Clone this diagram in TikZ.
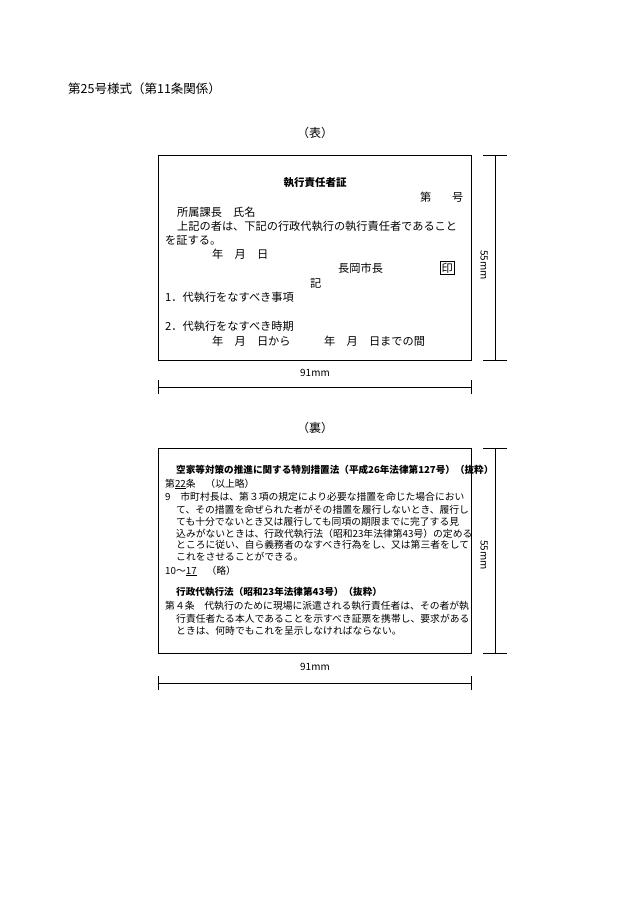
\documentclass[tikz,border=0pt]{standalone}
\usepackage{fontspec}
\setmainfont{Noto Sans CJK JP}
\begin{document}
\begin{tikzpicture}[x=1pt,y=-1pt,
  t/.style={anchor=west,inner sep=0pt,font=\fontsize{11.2}{12}\selectfont},
  b/.style={anchor=west,inner sep=0pt,font=\fontsize{9.8}{11}\selectfont},
  dim/.style={line width=0.7pt},
  card/.style={draw,line width=0.8pt}]
\useasboundingbox (0,0) rectangle (630,903);
\node[anchor=west,inner sep=0pt,font=\fontsize{12.5}{13}\selectfont] (hdr) at (68,89) {第25号様式（第11条関係）};
% front
\node[inner sep=0pt,font=\fontsize{12}{13}\selectfont] (omote) at (315,133) {（表）};
\draw[card] (158,155) rectangle (471,360);
\node[inner sep=0pt,font=\bfseries\fontsize{10.5}{12}\selectfont] (ft) at (315,183) {執行責任者証};
\node[t] (f1) at (420,197) {第};
\node[t] (f1b) at (452,197) {号};
\node[t] (f2) at (177,212) {所属課長　氏名};
\node[t] (f3) at (177,226) {上記の者は、下記の行政代執行の執行責任者であること};
\node[t] (f4) at (165,240) {を証する。};
\node[t] (f5) at (212,254) {年　月　日};
\node[t] (f6) at (338,268) {長岡市長};
\node[t,draw,inner sep=1.5pt] (inkan) at (440,268) {印};
\node[t] (f7) at (310,283) {記};
\node[t] (f8) at (165,297) {1．代執行をなすべき事項};
\node[t] (f9) at (165,326) {2．代執行をなすべき時期};
\node[t] (f10) at (212,341) {年　月　日から　　　年　月　日までの間};
% front dims
\coordinate (r1) at (495,155); \coordinate (r2) at (495,360);
\draw[dim] (483,155) -- (507,155); \draw[dim] (483,360) -- (507,360);
\draw[dim] (r1) -- (r2);
\node[inner sep=0pt,rotate=-90,font=\fontsize{10}{11}\selectfont] (h55a) at (484,265) {55mm};
\coordinate (w1) at (158,387); \coordinate (w2) at (471,387);
\draw[dim] (158,380) -- (158,394); \draw[dim] (471,380) -- (471,394);
\draw[dim] (w1) -- (w2);
\node[inner sep=0pt,font=\fontsize{10}{11}\selectfont] (w91a) at (315,373) {91mm};
% back
\node[inner sep=0pt,font=\fontsize{12}{13}\selectfont] (ura) at (315,428) {（裏）};
\draw[card] (158,448) rectangle (471,653);
\node[b,font=\bfseries\fontsize{9.6}{11}\selectfont] (bt1) at (176,470) {空家等対策の推進に関する特別措置法（平成26年法律第127号）（抜粋）};
\node[b] (b1) at (165,484) {第\underline{22}条　（以上略）};
\node[b] (b2) at (165,497) {9　市町村長は、第３項の規定により必要な措置を命じた場合におい};
\node[b] (b3) at (176,510) {て、その措置を命ぜられた者がその措置を履行しないとき、履行し};
\node[b] (b4) at (176,522) {ても十分でないとき又は履行しても同項の期限までに完了する見};
\node[b] (b5) at (176,534) {込みがないときは、行政代執行法（昭和23年法律第43号）の定める};
\node[b] (b6) at (176,545) {ところに従い、自ら義務者のなすべき行為をし、又は第三者をして};
\node[b] (b7) at (176,557) {これをさせることができる。};
\node[b] (b8) at (165,571) {10～\underline{17}　（略）};
\node[b,font=\bfseries\fontsize{9.6}{11}\selectfont] (bt2) at (176,592) {行政代執行法（昭和23年法律第43号）（抜粋）};
\node[b] (b9) at (165,606) {第４条　代執行のために現場に派遣される執行責任者は、その者が執};
\node[b] (b10) at (176,619) {行責任者たる本人であることを示すべき証票を携帯し、要求がある};
\node[b] (b11) at (176,631) {ときは、何時でもこれを呈示しなければならない。};
% back dims
\coordinate (r3) at (495,448); \coordinate (r4) at (495,653);
\draw[dim] (483,448) -- (507,448); \draw[dim] (483,653) -- (507,653);
\draw[dim] (r3) -- (r4);
\node[inner sep=0pt,rotate=-90,font=\fontsize{10}{11}\selectfont] (h55b) at (484,555) {55mm};
\coordinate (w3) at (158,683); \coordinate (w4) at (471,683);
\draw[dim] (158,676) -- (158,690); \draw[dim] (471,676) -- (471,690);
\draw[dim] (w3) -- (w4);
\node[inner sep=0pt,font=\fontsize{10}{11}\selectfont] (w91b) at (315,667) {91mm};
\end{tikzpicture}
\end{document}
